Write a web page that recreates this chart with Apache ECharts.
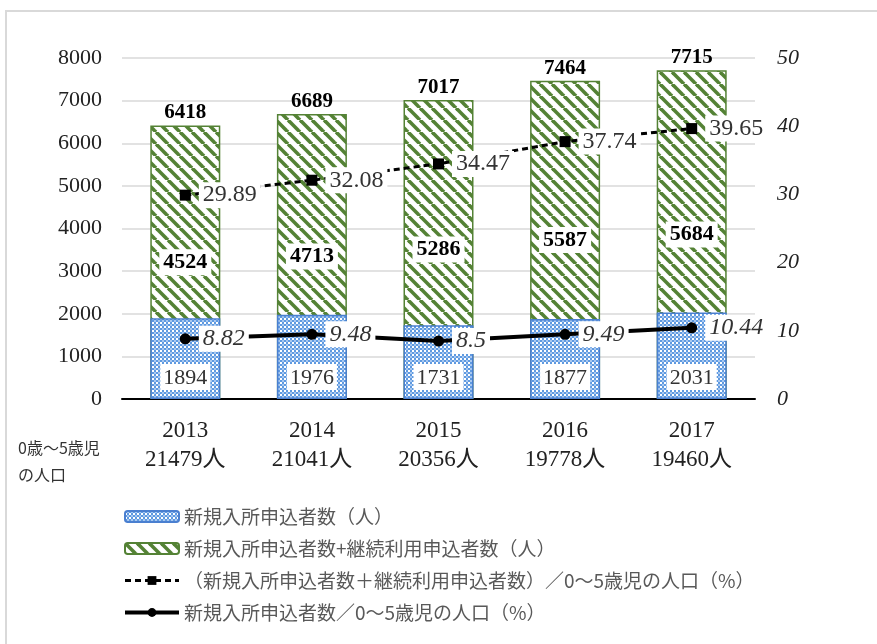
<!DOCTYPE html>
<html><head><meta charset="utf-8">
<script src="https://cdn.jsdelivr.net/npm/echarts@6/dist/echarts.min.js"></script>
<style>html,body{margin:0;padding:0;background:#fff}#c{width:877px;height:644px}</style>
</head><body><div id="c"></div>
<script>
const years = ['2013','2014','2015','2016','2017'];
const population = [21479, 21041, 20356, 19778, 19460];
const newApplicants = [1894, 1976, 1731, 1877, 2031];
const continuingApplicants = [4524, 4713, 5286, 5587, 5684];
const totalApplicants = [6418, 6689, 7017, 7464, 7715];
const totalRate = [29.89, 32.08, 34.47, 37.74, 39.65];
const newRate = [8.82, 9.48, 8.5, 9.49, 10.44];
const leftTicks = {min: 0, max: 8000, interval: 1000};
const rightTicks = {min: 0, max: 50, interval: 10};

const NAME_BLUE = '新規入所申込者数（人）';
const NAME_GREEN = '新規入所申込者数+継続利用申込者数（人）';
const NAME_DASH = '（新規入所申込者数＋継続利用申込者数）／0～5歳児の人口（%）';
const NAME_SOLID = '新規入所申込者数／0～5歳児の人口（%）';

function checker() {
  const c = document.createElement('canvas'); c.width = 4; c.height = 4;
  const g = c.getContext('2d');
  g.fillStyle = '#ffffff'; g.fillRect(0, 0, 4, 4);
  g.fillStyle = '#5f9ae0';
  g.fillRect(0, 0, 2, 2); g.fillRect(2, 2, 2, 2);
  g.fillStyle = '#a9c8f0';
  g.fillRect(2, 0, 2, 2);
  return c;
}
function stripes() {
  const s = 12;
  const c = document.createElement('canvas'); c.width = s; c.height = s;
  const g = c.getContext('2d');
  g.fillStyle = '#ffffff'; g.fillRect(0, 0, s, s);
  g.strokeStyle = '#548235'; g.lineWidth = 3.6;
  for (const o of [-s, 0, s]) {
    g.beginPath(); g.moveTo(o, 0); g.lineTo(o + s, s); g.stroke();
  }
  return c;
}

const SERIF = '"Liberation Serif", "Noto Sans CJK JP", serif';
const chart = echarts.init(document.getElementById('c'), null, {renderer: 'canvas'});
chart.setOption({
  animation: false,
  backgroundColor: '#ffffff',
  graphic: [
    {type: 'polyline', shape: {points: [[6, 644], [6, 11], [877, 11]]}, style: {stroke: '#d9d9d9', lineWidth: 2, fill: null}},
    {type: 'text', left: 18, top: 434, style: {text: '0歳～5歳児\nの人口', font: '16px "Noto Sans CJK JP"', fill: '#333', lineHeight: 27}}
  ],
  grid: {left: 122, right: 122, top: 58, bottom: 245},
  legend: {
    orient: 'vertical', left: 118, top: 502, itemGap: 13,
    itemWidth: 54, itemHeight: 11,
    data: [
      {name: NAME_BLUE},
      {name: NAME_GREEN},
      {name: NAME_DASH, lineStyle: {width: 3, type: [6, 4]}},
      {name: NAME_SOLID, lineStyle: {width: 4}}
    ],
    textStyle: {fontFamily: '"Noto Sans CJK JP"', fontSize: 19, color: '#595959'}
  },
  xAxis: {
    type: 'category', data: years,
    axisTick: {show: false},
    axisLine: {lineStyle: {color: '#000', width: 2}},
    axisLabel: {
      margin: 17, fontFamily: SERIF, fontSize: 23, color: '#222', lineHeight: 29,
      formatter: (v, i) => v + '\n' + population[i] + '人'
    }
  },
  yAxis: [
    {type: 'value', ...leftTicks, axisLine: {show: false}, axisTick: {show: false},
     axisLabel: {margin: 20, fontFamily: SERIF, fontSize: 22, color: '#222', formatter: v => String(v)},
     splitLine: {lineStyle: {color: '#d9d9d9', width: 1.5}}},
    {type: 'value', ...rightTicks, axisLine: {show: false}, axisTick: {show: false},
     axisLabel: {margin: 22, fontFamily: SERIF, fontSize: 22, fontStyle: 'italic', color: '#222', formatter: v => String(v)},
     splitLine: {show: false}}
  ],
  series: [
    {
      name: NAME_GREEN, type: 'bar', data: totalApplicants, barWidth: 70, barGap: '-100%', z: 2,
      itemStyle: {color: {image: stripes(), repeat: 'repeat'}, borderColor: '#548235', borderWidth: 1.5},
      label: {show: true, position: 'inside', fontFamily: SERIF, fontSize: 22, fontWeight: 'bold', color: '#000',
        backgroundColor: '#fff', padding: [3, 4, 1, 4],
        formatter: p => continuingApplicants[p.dataIndex]}
    },
    {
      name: NAME_BLUE, type: 'bar', data: newApplicants, barWidth: 70, barGap: '-100%', z: 3,
      itemStyle: {color: {image: checker(), repeat: 'repeat'}, borderColor: '#4a7fd0', borderWidth: 1.5},
      label: {show: true, position: 'insideBottom', distance: 9, fontFamily: SERIF, fontSize: 22, color: '#333',
        backgroundColor: '#fff', padding: [3, 3, 1, 3]}
    },
    {
      name: 'total', type: 'bar', data: totalApplicants, barWidth: 70, barGap: '-100%', z: 1,
      itemStyle: {color: 'rgba(0,0,0,0)'}, silent: true,
      label: {show: true, position: 'top', distance: 2, fontFamily: SERIF, fontSize: 21, fontWeight: 'bold', color: '#000'}
    },
    {
      name: NAME_DASH, type: 'line', yAxisIndex: 1, data: totalRate, z: 5,
      symbol: 'rect', symbolSize: 11,
      lineStyle: {color: '#000', width: 3, type: [6, 4]},
      itemStyle: {color: '#000'},
      label: {show: true, position: 'right', distance: 8, fontFamily: SERIF, fontSize: 24, color: '#333',
        backgroundColor: '#fff', padding: [2, 4, 0, 4]}
    },
    {
      name: NAME_SOLID, type: 'line', yAxisIndex: 1, data: newRate, z: 5,
      symbol: 'circle', symbolSize: 11,
      lineStyle: {color: '#000', width: 4},
      itemStyle: {color: '#000'},
      label: {show: true, position: 'right', distance: 8, fontFamily: SERIF, fontSize: 24, fontStyle: 'italic', color: '#333',
        backgroundColor: '#fff', padding: [2, 4, 0, 4]}
    }
  ]
});
</script></body></html>
